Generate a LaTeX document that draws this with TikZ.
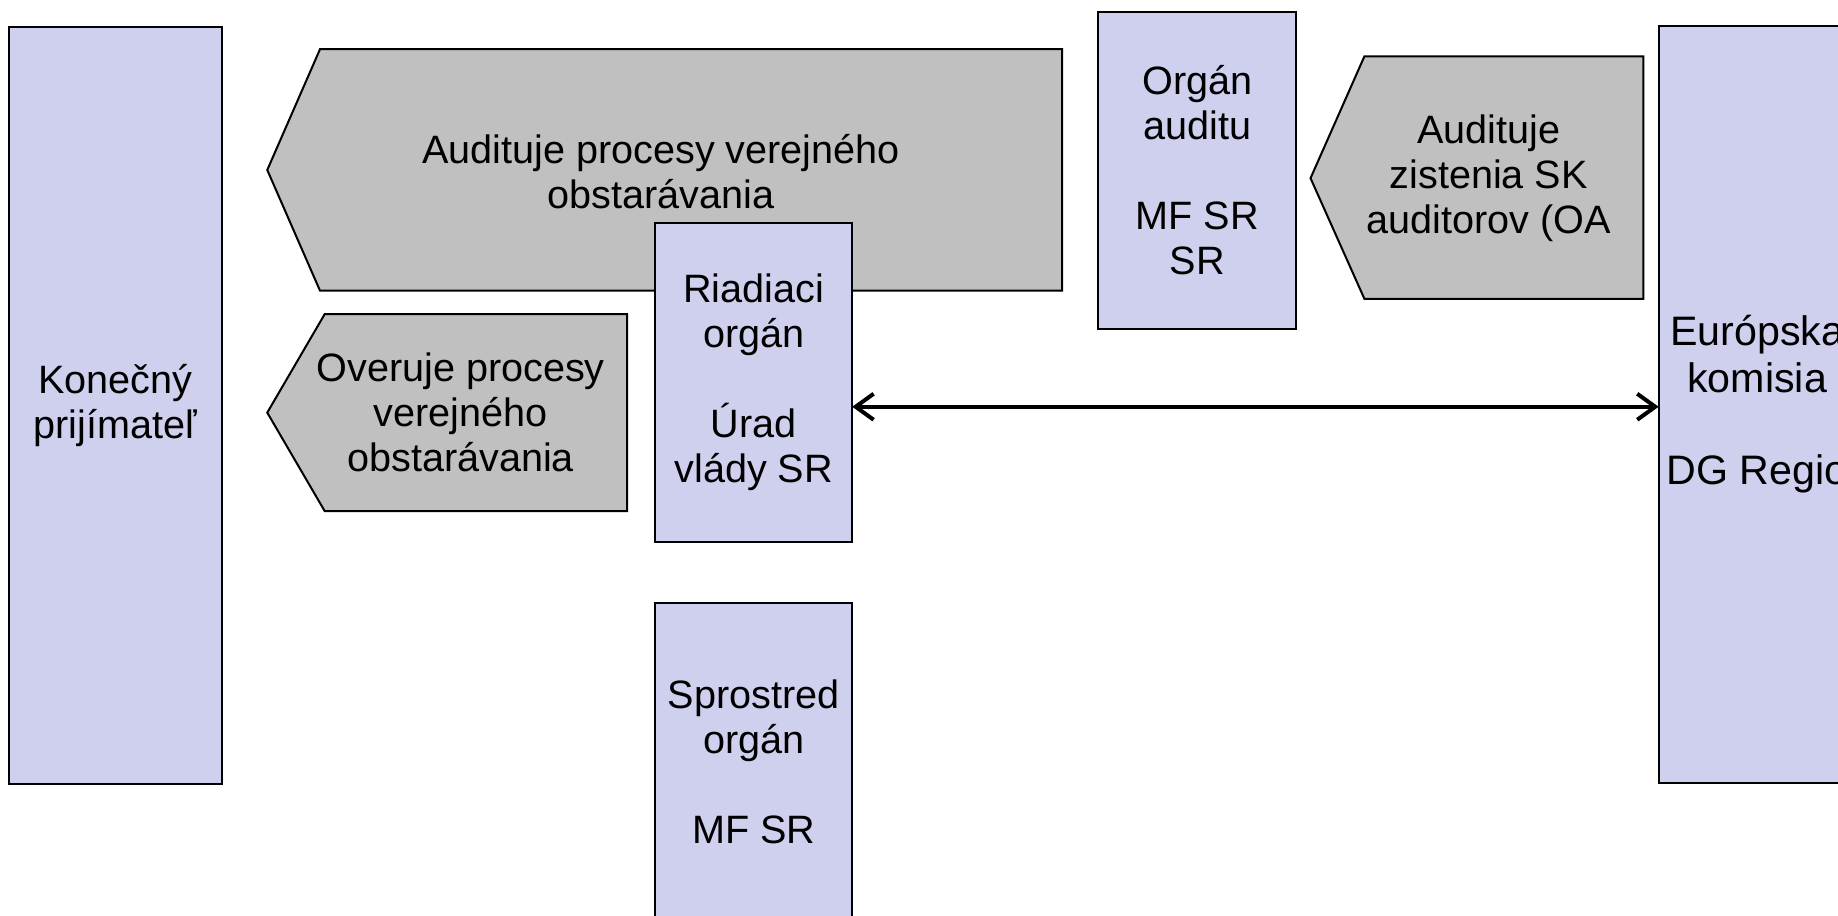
\documentclass[tikz,border=0pt]{standalone}
\usepackage{fontspec}
\setmainfont{Liberation Sans}
\usetikzlibrary{arrows.meta}
\definecolor{lav}{RGB}{207,207,238}
\definecolor{grayfill}{RGB}{192,192,192}
\begin{document}
\begin{tikzpicture}[x=0.5862pt,y=-0.5862pt,
  box/.style={draw=black, line width=1pt, fill=lav, inner sep=0pt, outer sep=0pt, align=center, font=\fontsize{19.8}{22.5}\selectfont},
  lbl/.style={align=center, inner sep=0pt, font=\fontsize{19.8}{22.5}\selectfont},
  tag/.style={draw=black, line width=1pt, fill=grayfill, line join=miter},
  link/.style={line width=2pt, {Straight Barb[length=9pt,width=13pt]}-{Straight Barb[length=9pt,width=13pt]}}]
\useasboundingbox (0,0) rectangle (1568,781);
% grey process tags
\draw[tag] (228,145) -- (273,42) -- (906,42) -- (906,248) -- (273,248) -- cycle;
\node[lbl] (t1) at (564,146) {Audituje procesy verejného\\obstarávania};
\draw[tag] (228,352) -- (277,268) -- (535,268) -- (535,436) -- (277,436) -- cycle;
\node[lbl] (t2) at (393,352) {Overuje procesy\\verejného\\obstarávania};
\draw[tag] (1118,152) -- (1164,48) -- (1402,48) -- (1402,255) -- (1164,255) -- cycle;
\node[lbl] (t3) at (1270,152) {Audituje\\zistenia SK\\auditorov (OA};
% bodies
\node[box, minimum width=106.1pt, minimum height=378.7pt] (kp) at (98.5,346) {Konečný\\prijímateľ};
\node[box, minimum width=98.5pt, minimum height=159.4pt] (ria) at (643,326) {Riadiaci\\orgán\\[22.5pt]Úrad\\vlády SR};
\node[box, minimum width=98.5pt, minimum height=159.4pt] (spr) at (643,650) {Sprostred\\orgán\\[22.5pt]MF SR};
\node[box, minimum width=99.1pt, minimum height=158.9pt] (oa) at (1021.5,145.5) {Orgán\\auditu\\[22.5pt]MF SR\\SR};
\node[box, minimum width=98.5pt, minimum height=378.7pt, font=\fontsize{20.6}{23.2}\selectfont] (ek) at (1499,345) {Európska\\komisia\\[23.2pt]DG Regio};
% link
\coordinate (ay) at (0,347);
\draw[link] (ria.east |- ay) -- (ek.west |- ay);
\end{tikzpicture}
\end{document}
